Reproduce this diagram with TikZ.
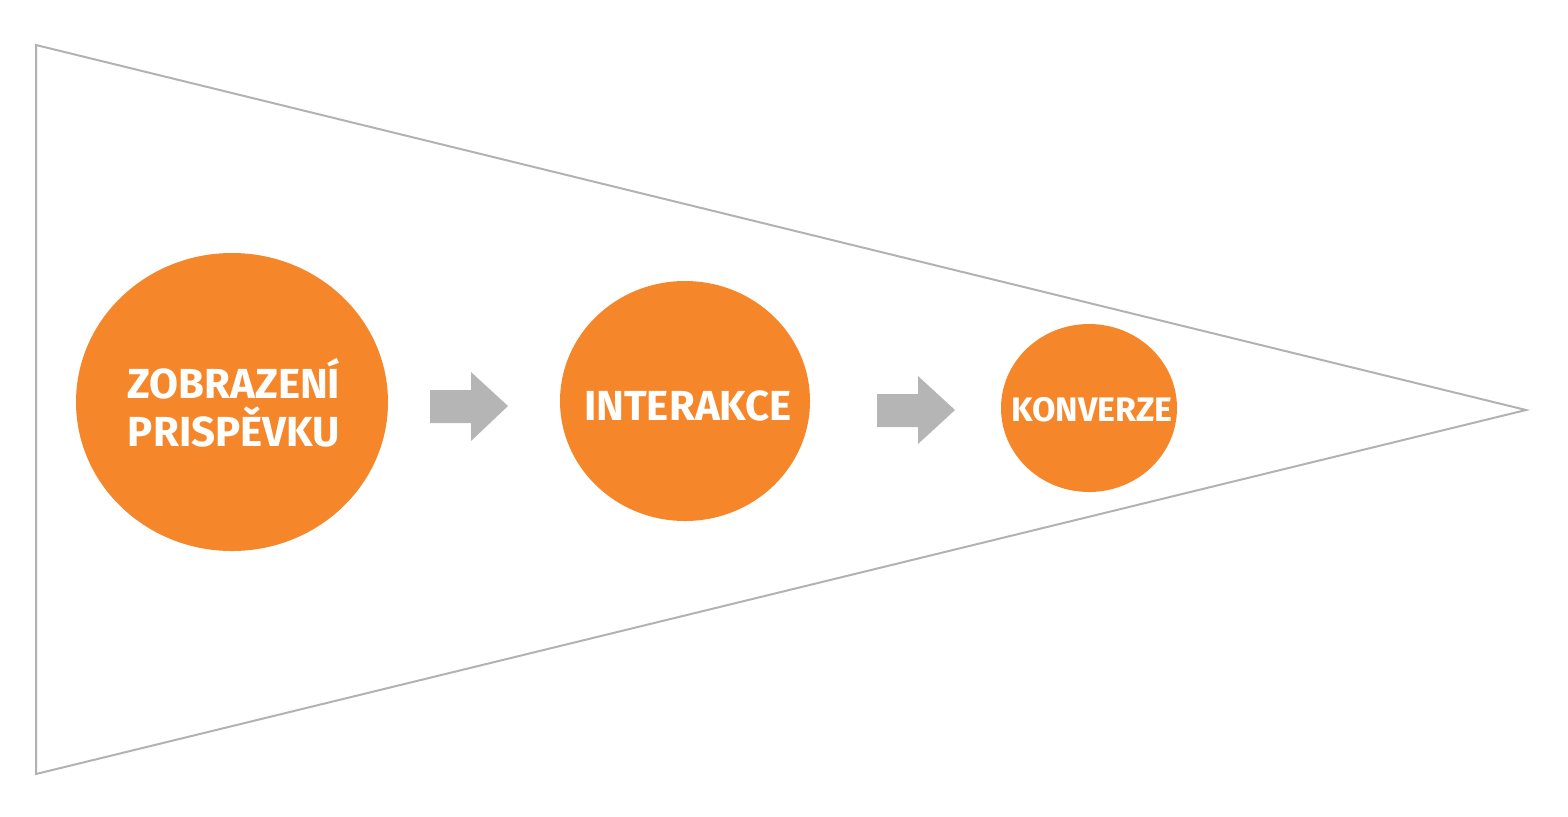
\documentclass[tikz,border=0pt]{standalone}
\usepackage{fontspec}
\setmainfont{Fira Sans}
\usetikzlibrary{positioning,shapes.geometric}

\begin{document}
\begin{tikzpicture}[x=0.5pt,y=-0.5pt]
		\tikzstyle{funnel}=[draw={rgb,255:red,178;green,178;blue,178},line width=1pt]
		\tikzstyle{stage}=[ellipse,fill={rgb,255:red,245;green,135;blue,42},inner sep=0pt]
		\tikzstyle{stagetext}=[text=white,align=center,inner sep=0pt,font=\bfseries\fontsize{21}{24}\selectfont]
		\tikzstyle{flow}=[fill={rgb,255:red,181;green,181;blue,181}]
		
		\useasboundingbox (0,0) rectangle (1568,816);
		\draw [funnel] (36,45) -- (1526,410) -- (36,774) -- cycle;
		
		\node[stage, minimum width=156pt, minimum height=149pt] (views) at (232,402) {};
		\node[stagetext] (viewstext) at (234,403) {ZOBRAZENÍ\\PRISPĚVKU};
		
		\node[stage, minimum width=125pt, minimum height=120pt] (interact) at (685,401) {};
		\node[stagetext] (interacttext) at (688,406) {INTERAKCE};
		
		\node[stage, minimum width=88pt, minimum height=84pt] (convert) at (1089,408) {};
		\node[stagetext, font=\bfseries\fontsize{17}{20}\selectfont] (converttext) at (1092,410) {KONVERZE};
		
		\fill [flow] (430,390) -- (471,390) -- (471,372) -- (508,406) -- (471,441) -- (471,423) -- (430,423) -- cycle;
		\fill [flow] (877,394) -- (918,394) -- (918,376) -- (955,410) -- (918,444) -- (918,427) -- (877,427) -- cycle;
\end{tikzpicture}
\end{document}
